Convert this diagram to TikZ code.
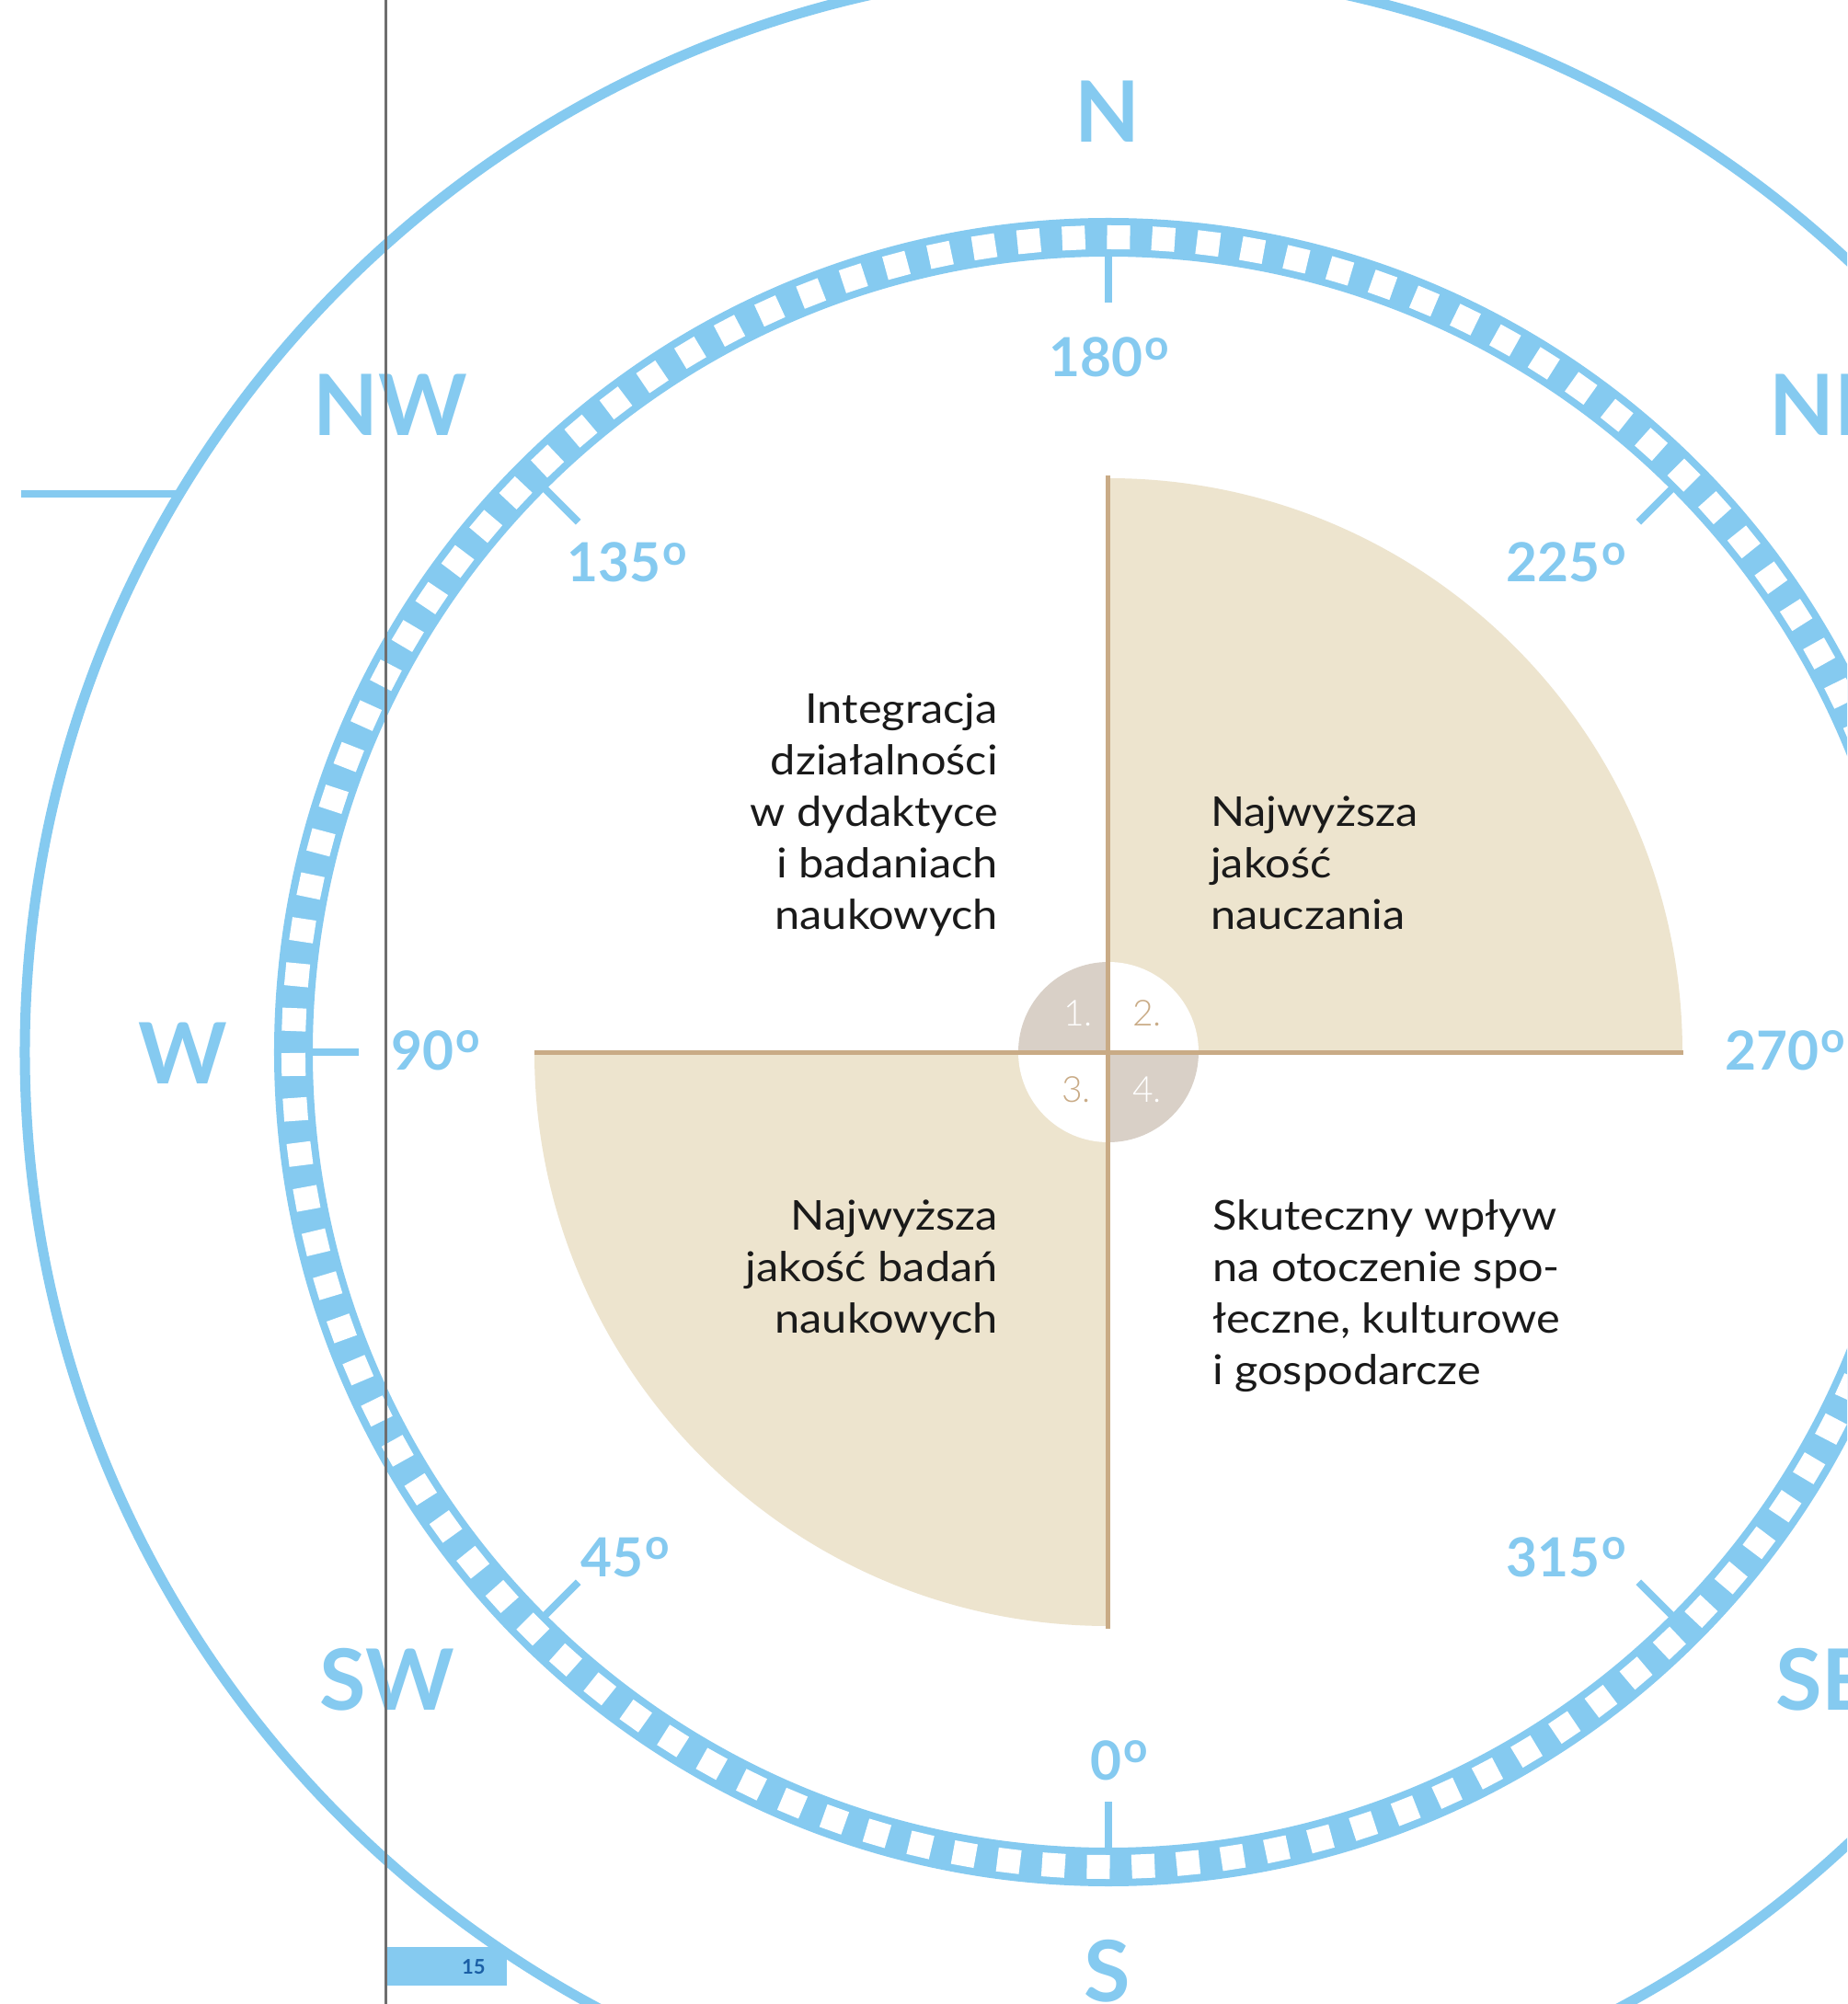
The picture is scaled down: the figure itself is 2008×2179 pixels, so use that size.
\documentclass[tikz,border=0pt]{standalone}
\usepackage{fontspec}
\setmainfont{Lato}
\newfontfamily\lightfont{Lato Light}
\newfontfamily\bodyfont{Lato}[FakeStretch=1.09]
\definecolor{cblue}{HTML}{85CAF0}
\definecolor{beige}{HTML}{EDE4CE}
\definecolor{tanl}{HTML}{C9AB86}
\definecolor{cgray}{HTML}{D9D0C7}
\definecolor{pgnum}{HTML}{1B5FA6}
\definecolor{vline}{HTML}{6E6E6E}
\definecolor{bodytext}{HTML}{1A1A1A}
\tikzset{
  compass/.style={text=cblue, font=\bfseries\fontsize{92}{92}\selectfont, inner sep=0pt},
  deglab/.style={text=cblue, font=\bfseries\fontsize{58.6}{60}\selectfont, inner sep=0pt, anchor=base},
  body/.style={text=bodytext, font=\bodyfont\fontsize{44.7}{56}\selectfont, inner sep=0pt},
  numlab/.style={font=\lightfont\fontsize{39}{39}\selectfont, inner sep=0pt, anchor=base},
  ticklin/.style={draw=cblue, line width=8pt},
  tanline/.style={draw=tanl, line width=5pt}
}
\newcommand\degsign{\kern2pt\raisebox{18.7pt}{\fontsize{46}{46}\selectfont o}}
\begin{document}
\begin{tikzpicture}[x=1pt,y=1pt]
\useasboundingbox (-1205,-1035) rectangle (803,1144);
\clip (-1205,-1035) rectangle (803,1144);
\fill[white] (-1205,-1035) rectangle (803,1144);
\coordinate (C) at (0,0);
% outer circle and left line
\draw[cblue, line width=11pt] (C) circle (1178);
\coordinate (hl1) at (-1182,607);
\coordinate (hl2) at (-1006,607);
\draw[cblue, line width=8pt] (hl1) -- (hl2);
% ring
\draw[cblue, line width=42pt] (C) circle (886);
\foreach \k in {0,...,113}
  \fill[white, rotate={89.29+\k*3.157895}] (873,-12.5) rectangle (899,12.5);
% ticks
\foreach \a in {0,45,...,315}
  \draw[ticklin] (\a:868) -- (\a:815);
% quadrants
\fill[beige] (C) -- (624,0) arc (0:90:624) -- cycle;
\fill[beige] (C) -- (-624,0) arc (180:270:624) -- cycle;
% small circle
\fill[white] (C) circle (98);
\fill[cgray] (C) -- (0,98) arc (90:180:98) -- cycle;
\fill[cgray] (C) -- (0,-98) arc (270:360:98) -- cycle;
% tan lines
\coordinate (vt) at (0,627);
\coordinate (vb) at (0,-627);
\coordinate (hlft) at (-624,0);
\coordinate (hrgt) at (625,0);
\draw[tanline] (vt) -- (vb);
\draw[tanline] (hlft) -- (hrgt);
% numbers
\node[numlab, text=white] (n1) at (-33,29) {1.};
\node[numlab, text=tanl] (n2) at (42,29) {2.};
\node[numlab, text=tanl] (n3) at (-35,-54) {3.};
\node[numlab, text=white] (n4) at (42,-54) {4.};
% compass letters
\node[compass, anchor=base] (lN) at (-1,989) {N};
\node[compass, anchor=base] (lNW) at (-781,670) {NW};
\node[compass, anchor=base west] (lNE) at (718,670) {NE};
\node[compass, anchor=base] (lW) at (-1006,-34) {W};
\node[compass, anchor=base] (lSW) at (-784,-715) {SW};
\node[compass, anchor=base west] (lSE) at (725,-715) {SE};
\node[compass, anchor=base] (lS) at (-1,-1032) {S};
% degree labels
\node[deglab] (d180) at (1,734) {180\degsign};
\node[deglab] (d135) at (-523,511) {135\degsign};
\node[deglab] (d225) at (498,511) {225\degsign};
\node[deglab] (d90) at (-731,-19) {90\degsign};
\node[deglab] (d270) at (736,-19) {270\degsign};
\node[deglab] (d45) at (-525,-570) {45\degsign};
\node[deglab] (d315) at (498,-570) {315\degsign};
\node[deglab] (d0) at (12,-791) {0\degsign};
% text blocks
\node[body, anchor=base east] (a1) at (-120,357) {Integracja};
\node[body, anchor=base east] (a2) at (-120,301) {działalności};
\node[body, anchor=base east] (a3) at (-120,245) {w dydaktyce};
\node[body, anchor=base east] (a4) at (-120,189) {i badaniach};
\node[body, anchor=base east] (a5) at (-120,133) {naukowych};
\node[body, anchor=base west] (b1) at (111,245) {Najwyższa};
\node[body, anchor=base west] (b2) at (111,189) {jakość};
\node[body, anchor=base west] (b3) at (111,133) {nauczania};
\node[body, anchor=base east] (c1) at (-120,-193) {Najwyższa};
\node[body, anchor=base east] (c2) at (-120,-249) {jakość badań};
\node[body, anchor=base east] (c3) at (-120,-305) {naukowych};
\node[body, anchor=base west] (e1) at (113,-193) {Skuteczny wpływ};
\node[body, anchor=base west] (e2) at (113,-249) {na otoczenie spo-};
\node[body, anchor=base west] (e3) at (113,-305) {łeczne, kulturowe};
\node[body, anchor=base west] (e4) at (113,-361) {i gospodarcze};
% page number box
\fill[cblue] (-785,-973) rectangle (-654,-1015);
\node[text=pgnum, font=\bfseries\fontsize{22}{22}\selectfont, inner sep=0pt] (pg) at (-690,-995) {15};
% vertical gray line
\coordinate (gl1) at (-785,1144);
\coordinate (gl2) at (-785,-1035);
\draw[vline, line width=3pt] (gl1) -- (gl2);
\end{tikzpicture}
\end{document}
